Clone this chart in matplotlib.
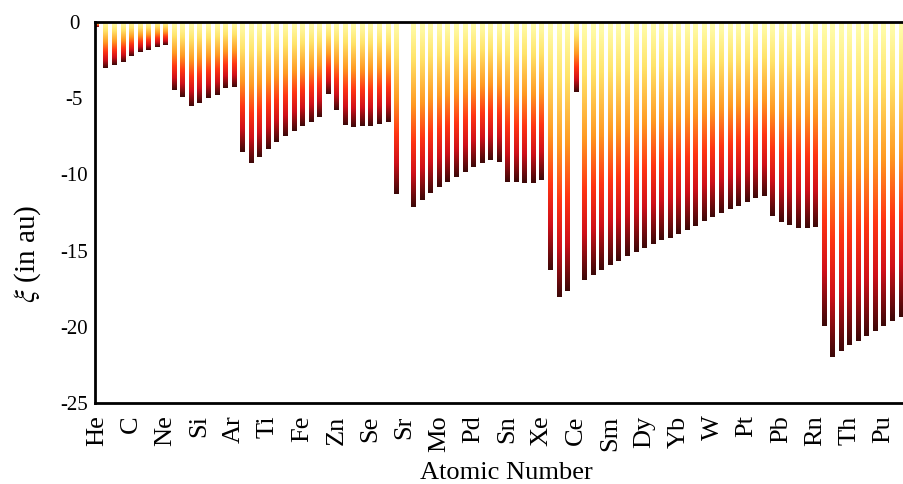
import numpy as np
import matplotlib.pyplot as plt
from matplotlib.colors import LinearSegmentedColormap

# atomic numbers He (2) .. Cm (96); Sr has no bar in the original
z = list(range(2, 97))
xi = [
    -0.3,                                                   # He
    -3.04, -2.82, -2.60, -2.25, -1.95, -1.82, -1.66, -1.51,  # Li..Ne
    -4.46, -4.90, -5.51, -5.34, -4.96, -4.79, -4.35, -4.27,  # Na..Ar
    -8.51, -9.23, -8.84, -8.33, -7.85, -7.48, -7.13, -6.82,  # K..Fe
    -6.54, -6.21, -4.75, -5.77, -6.78, -6.87, -6.80, -6.80,  # Co..Se
    -6.72, -6.54,                                           # Br, Kr
    -11.31, np.nan, -12.16, -11.68, -11.24, -10.85, -10.48,  # Rb..Tc
    -10.17, -9.82, -9.54, -9.27, -9.06, -9.17, -10.48,       # Ru..Sn
    -10.52, -10.59, -10.54, -10.37,                          # Sb..Xe
    -16.27, -18.04, -17.65, -4.62, -16.93, -16.60, -16.27,   # Cs..Pm
    -15.94, -15.68, -15.38, -15.11, -14.85, -14.59, -14.33,  # Sm..Er
    -14.15, -13.91, -13.65, -13.39, -13.08, -12.77, -12.53,  # Tm..Re
    -12.27, -12.05, -11.79, -11.57, -11.40, -12.73, -13.15,  # Os..Pb
    -13.32, -13.50, -13.54, -13.45,                          # Bi..Rn
    -19.95, -22.00, -21.59, -21.19, -20.93, -20.58, -20.25,  # Fr..Np
    -19.93, -19.62, -19.34,                                  # Pu..Cm
]
tick_z = list(range(2, 95, 4))
tick_labels = ['He', 'C', 'Ne', 'Si', 'Ar', 'Ti', 'Fe', 'Zn', 'Se', 'Sr',
               'Mo', 'Pd', 'Sn', 'Xe', 'Ce', 'Sm', 'Dy', 'Yb', 'W', 'Pt',
               'Pb', 'Rn', 'Th', 'Pu']

plt.rcParams['font.family'] = 'Liberation Serif'
plt.rcParams['mathtext.fontset'] = 'stix'

cmap = LinearSegmentedColormap.from_list('bar', [
    (0.0, '#ffffb0'), (0.2, '#ffe46a'), (0.45, '#ff9a22'),
    (0.65, '#ff3514'), (0.82, '#d0101a'), (1.0, '#3c0808')])

fig = plt.figure(figsize=(9.04, 4.84), dpi=100)
ax = fig.add_axes([0.105, 0.1674, 0.895, 0.7871])

bars = ax.bar(z, np.nan_to_num(xi), width=0.47, color='none', edgecolor='none')
grad = np.linspace(0, 1, 256).reshape(-1, 1)
for b in bars:
    x0, w, h = b.get_x(), b.get_width(), b.get_height()
    if h == 0:
        continue
    ax.imshow(grad, cmap=cmap, aspect='auto', origin='upper',
              extent=(x0, x0 + w, h, 0), zorder=2)

ax.set_xlim(1.77, 96.4)
ax.set_ylim(-25, 0)
ax.set_yticks([-25, -20, -15, -10, -5, 0])
ax.set_yticklabels(['-25', '-20', '-15', '-10', '-5', '0'], fontsize=15,
                   ha='center')
ax.set_xticks(tick_z)
ax.set_xticklabels(tick_labels, rotation=90, fontsize=19)
ax.tick_params(length=0)
ax.tick_params(axis='y', pad=15)
ax.tick_params(axis='x', pad=9)

for s in ['left', 'top', 'bottom']:
    ax.spines[s].set_linewidth(2)
ax.spines['right'].set_visible(False)

ax.set_xlabel('Atomic Number', fontsize=19)
ax.xaxis.set_label_coords(0.509, -0.156)
ax.set_ylabel(r'$\xi$ (in au)', fontsize=21)
ax.yaxis.set_label_coords(-0.064, 0.39)

fig.savefig('out.png', dpi=100)
